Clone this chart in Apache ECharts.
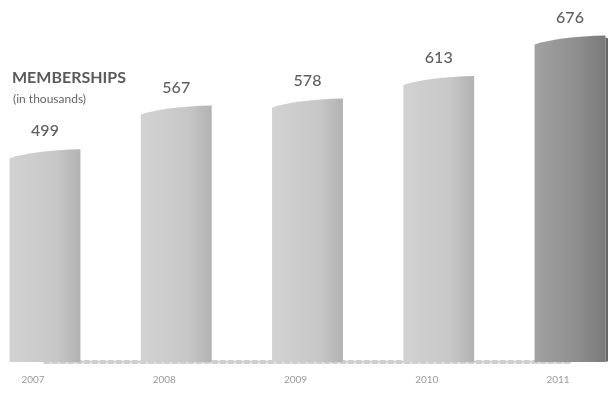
<!DOCTYPE html>
<html>
<head>
<meta charset="utf-8">
<script src="https://cdn.jsdelivr.net/npm/echarts@6/dist/echarts.min.js"></script>
<style>
html,body{margin:0;padding:0;background:#fff;}
#chart{width:608px;height:395px;}
</style>
</head>
<body>
<div id="chart"></div>
<script>
const years = ['2007', '2008', '2009', '2010', '2011'];
const memberships = [499, 567, 578, 613, 676];
const titleText = 'MEMBERSHIPS';
const subtitleText = '(in thousands)';

const chart = echarts.init(document.getElementById('chart'));
const lastIdx = memberships.length - 1;
const axisMin = 168;

function renderBar(params, api) {
  const idx = api.value(0);
  const val = api.value(1);
  const top = api.coord([idx, val]);
  const base = api.coord([idx, axisMin]);
  const w = api.size([1, 0])[0] * 0.54;
  const x0 = top[0] - w / 2, x1 = top[0] + w / 2;
  const yt = top[1], yb = base[1];
  const dark = idx === lastIdx;
  const fill = new echarts.graphic.LinearGradient(0, 0, 1, 0, dark ? [
    {offset: 0, color: '#a2a2a2'}, {offset: 0.6, color: '#8e8e8e'}, {offset: 1, color: '#7a7a7a'}
  ] : [
    {offset: 0, color: '#d2d2d2'}, {offset: 0.65, color: '#c8c8c8'}, {offset: 1, color: '#b2b2b2'}
  ]);
  const children = [];
  if (dark) {
    children.push({
      type: 'polygon',
      shape: {points: [[x1, yt + 2], [x1 + 22, yt + 8], [x1 + 22, yb - 6], [x1, yb]]},
      style: {fill: '#666'}
    });
  }
  children.push({
    type: 'path',
    shape: {
      pathData: 'M' + x0 + ' ' + yb + ' L' + x0 + ' ' + (yt + 9) +
        ' Q' + (x0 + w * 0.35) + ' ' + (yt + 1) + ' ' + x1 + ' ' + yt +
        ' L' + x1 + ' ' + yb + ' Z'
    },
    style: {fill: fill}
  });
  children.push({
    type: 'text',
    style: {
      x: top[0], y: yt - 18, text: String(val),
      align: 'center', verticalAlign: 'middle',
      font: '500 16px Lato', fill: '#5e5e5e'
    }
  });
  return {type: 'group', children: children};
}

chart.setOption({
  backgroundColor: '#fff',
  animation: false,
  title: [
    {text: titleText, left: 7, top: 65, textStyle: {fontFamily: 'Lato', fontWeight: 'bold', fontSize: 16, color: '#5a5a5a'}},
    {text: subtitleText, left: 8, top: 88, textStyle: {fontFamily: 'Lato', fontWeight: 'normal', fontSize: 12, color: '#666'}}
  ],
  grid: {left: 45, right: 38, top: 20, bottom: 33},
  xAxis: {
    type: 'category',
    data: years,
    boundaryGap: false,
    axisTick: {show: false},
    axisLine: {show: true, lineStyle: {color: '#cfcfcf', width: 4, type: 'dotted'}},
    axisLabel: {margin: 13, fontFamily: 'Lato', fontSize: 10, color: '#999', padding: [0, 24, 0, 0]}
  },
  yAxis: {
    type: 'value', min: axisMin, max: 700,
    show: false, splitLine: {show: false}
  },
  series: [{
    type: 'custom',
    renderItem: renderBar,
    data: memberships.map((v, i) => [i, v]),
    clip: false,
    z: 3
  }]
});
</script>
</body>
</html>
